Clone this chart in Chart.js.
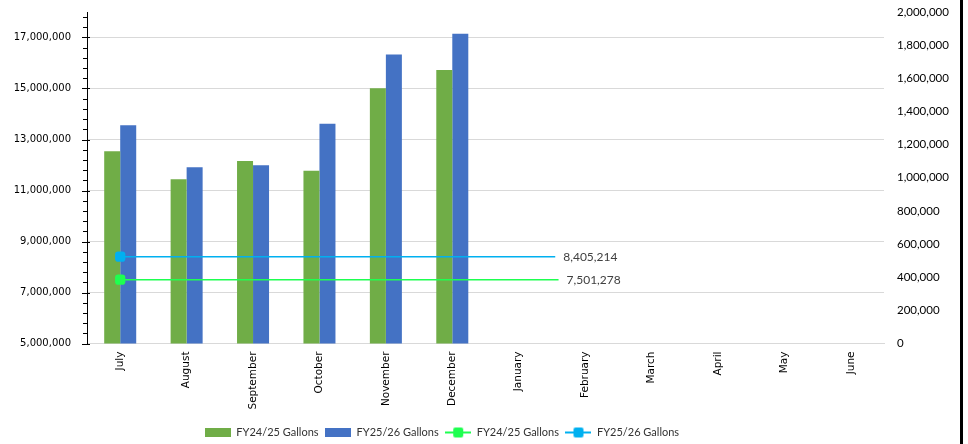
<!DOCTYPE html>
<html>
<head>
<meta charset="utf-8">
<script src="https://cdn.jsdelivr.net/npm/chart.js@4.4.1/dist/chart.umd.min.js"></script>
<style>
    body { margin: 0; background: #fff; }
    #wrap { position: relative; width: 960px; height: 444px; }
    #edge { position: absolute; left: 960px; top: 0; width: 3px; height: 444px; background: #000; }
</style>
</head>
<body>
<div id="wrap"><canvas id="gallonsChart"></canvas></div>
<div id="edge"></div>
<script>
const months = ['July', 'August', 'September', 'October', 'November', 'December',
    'January', 'February', 'March', 'April', 'May', 'June'];
const gallonsFY2425 = [12540000, 11440000, 12160000, 11770000, 15010000, 15730000];
const gallonsFY2526 = [13560000, 11910000, 11990000, 13620000, 16330000, 17150000];
const avgFY2425 = [7501278, 7501278];
const avgFY2526 = [8405214, 8405214];
// category index where the average lines start / stop
const avgSpanFY2425 = [0, 6.6];
const avgSpanFY2526 = [0, 6.55];
const leftTickValues = [5000000, 7000000, 9000000, 11000000, 13000000, 15000000, 17000000];
const legendNames = ['FY24/25 Gallons', 'FY25/26 Gallons', 'FY24/25 Gallons', 'FY25/26 Gallons'];

const green = '#70AD47';
const blue = '#4472C4';
const lineGreen = '#1EFF50';
const lineBlue = '#00B0F0';

function fmt(v) {
    return Math.round(v).toLocaleString('en-US');
}

function barSwatch(color) {
    const c = document.createElement('canvas');
    c.width = 26; c.height = 9;
    const g = c.getContext('2d');
    g.fillStyle = color;
    g.fillRect(0, 0, 26, 9);
    return c;
}

function lineSwatch(color) {
    const c = document.createElement('canvas');
    c.width = 26; c.height = 12;
    const g = c.getContext('2d');
    g.fillStyle = color;
    g.fillRect(0, 5, 26, 2);
    g.beginPath();
    g.roundRect(8, 1, 10, 10, 2);
    g.fill();
    return c;
}

function toPoints(span, values) {
    return span.map((x, i) => ({ x: x, y: values[i] }));
}

// minor / major tick marks on the left axis
const leftTicks = {
    id: 'leftTicks',
    afterDraw(chart) {
        const s = chart.scales.y;
        const ctx = chart.ctx;
        const x = s.right;
        ctx.save();
        ctx.strokeStyle = '#000';
        ctx.lineWidth = 1;
        for (let v = s.min; v <= s.max + 1; v += 400000) {
            const y = Math.round(s.getPixelForValue(v)) + 0.5;
            const major = (v - s.min) % 2000000 === 0;
            ctx.beginPath();
            ctx.moveTo(major ? x - 5 : x - 4, y);
            ctx.lineTo(major ? x + 3 : x, y);
            ctx.stroke();
        }
        ctx.restore();
    }
};

// value label at the end of each average line
const endLabels = {
    id: 'endLabels',
    afterDatasetsDraw(chart) {
        const ctx = chart.ctx;
        ctx.save();
        ctx.font = '12px Lato';
        ctx.fillStyle = '#404040';
        ctx.textBaseline = 'middle';
        chart.data.datasets.forEach((ds, i) => {
            if (ds.type !== 'line') return;
            const pts = chart.getDatasetMeta(i).data;
            const last = pts[pts.length - 1];
            ctx.fillText(fmt(ds.data[ds.data.length - 1].y), last.x + 8, last.y);
        });
        ctx.restore();
    }
};

// the legend sits a bit left of centre and low in the original
const legendShift = {
    id: 'legendShift',
    afterLayout(chart) {
        chart.legend.left -= 38;
        chart.legend.right -= 38;
        chart.legend.top += 4;
        chart.legend.bottom += 4;
    }
};

const ctx = document.getElementById('gallonsChart').getContext('2d');
new Chart(ctx, {
    data: {
        labels: months,
        datasets: [
            {
                type: 'line', label: legendNames[2], data: toPoints(avgSpanFY2425, avgFY2425),
                xAxisID: 'xl', yAxisID: 'y', borderColor: lineGreen, backgroundColor: lineGreen,
                borderWidth: 1.5, pointStyle: 'rectRounded', pointRadius: [6, 0], pointBorderWidth: 0,
                order: 0
            },
            {
                type: 'line', label: legendNames[3], data: toPoints(avgSpanFY2526, avgFY2526),
                xAxisID: 'xl', yAxisID: 'y', borderColor: lineBlue, backgroundColor: lineBlue,
                borderWidth: 1.5, pointStyle: 'rectRounded', pointRadius: [6, 0], pointBorderWidth: 0,
                order: 0
            },
            {
                type: 'bar', label: legendNames[0], data: gallonsFY2425, xAxisID: 'x', yAxisID: 'y',
                backgroundColor: green, order: 1
            },
            {
                type: 'bar', label: legendNames[1], data: gallonsFY2526, xAxisID: 'x', yAxisID: 'y',
                backgroundColor: blue, order: 1
            }
        ]
    },
    options: {
        responsive: true,
        maintainAspectRatio: false,
        animation: false,
        layout: { padding: { top: 12, left: 0, right: 0, bottom: 0 } },
        datasets: { bar: { categoryPercentage: 0.964, barPercentage: 1 } },
        plugins: {
            tooltip: { enabled: false },
            legend: {
                position: 'bottom',
                labels: {
                    usePointStyle: true,
                    pointStyleWidth: 26,
                    boxHeight: 11,
                    padding: 6.5,
                    color: '#333',
                    font: { family: 'Lato', size: 11 },
                    generateLabels(chart) {
                        const swatches = [barSwatch(green), barSwatch(blue), lineSwatch(lineGreen), lineSwatch(lineBlue)];
                        return legendNames.map((name, i) => ({
                            text: name,
                            pointStyle: swatches[i],
                            fillStyle: 'transparent',
                            strokeStyle: 'transparent',
                            lineWidth: 0,
                            fontColor: '#333',
                            datasetIndex: [2, 3, 0, 1][i]
                        }));
                    }
                }
            }
        },
        scales: {
            x: {
                type: 'category',
                offset: true,
                grid: { display: false, drawTicks: false },
                border: { display: true, color: '#d9d9d9' },
                ticks: {
                    minRotation: 90, maxRotation: 90, padding: 8, autoSkip: false,
                    color: '#000', font: { family: 'DejaVu Sans', size: 10.5 }
                },
                afterFit(scale) { scale.height = 73; }
            },
            xl: {
                type: 'linear',
                display: false,
                min: -0.5,
                max: 11.5
            },
            y: {
                type: 'linear',
                position: 'left',
                min: 5000000,
                max: 18000000,
                grid: { drawTicks: true, tickLength: 13, tickColor: 'transparent', color: '#d9d9d9' },
                border: { display: true, color: '#000', width: 1 },
                ticks: {
                    padding: 3,
                    color: '#000',
                    font: { family: 'DejaVu Sans', size: 10 },
                    callback: (v) => fmt(v)
                },
                afterBuildTicks(scale) {
                    scale.ticks = leftTickValues.map(v => ({ value: v }));
                },
                afterFit(scale) { scale.width = 87; }
            },
            y1: {
                type: 'linear',
                position: 'right',
                min: 0,
                max: 2000000,
                grid: { display: true, drawOnChartArea: false, drawTicks: true, tickLength: 10, tickColor: 'transparent', color: 'transparent' },
                border: { display: false },
                ticks: {
                    stepSize: 200000,
                    padding: 3,
                    color: '#000',
                    font: { family: 'Lato', size: 11.5 },
                    callback: (v) => fmt(v)
                },
                afterFit(scale) { scale.width = 76; }
            }
        }
    },
    plugins: [leftTicks, endLabels, legendShift]
});
</script>
</body>
</html>
